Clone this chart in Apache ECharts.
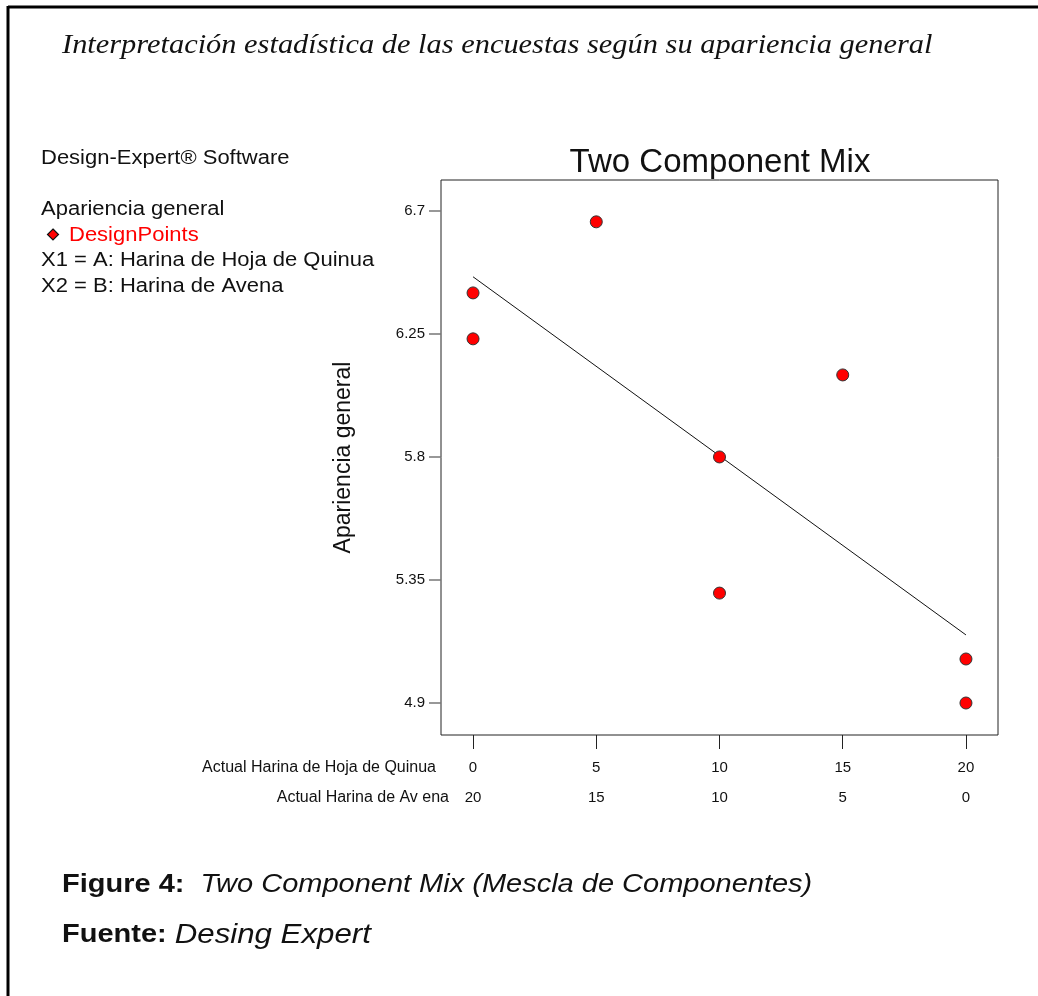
<!DOCTYPE html>
<html>
<head>
<meta charset="utf-8">
<script src="https://cdn.jsdelivr.net/npm/echarts@6/dist/echarts.min.js"></script>
<style>html,body{margin:0;padding:0;background:#fff}#c{width:1038px;height:996px}</style>
</head>
<body>
<div id="c"></div>
<script>
// Data
var quinua = [0, 0, 5, 10, 10, 15, 20, 20];
var apariencia = [6.40, 6.232, 6.66, 5.80, 5.302, 6.10, 5.061, 4.90];
var fitX = [0, 20];
var fitY = [6.459, 5.149];
var xTicks = [0, 5, 10, 15, 20];
var xTopLabels = ['0', '5', '10', '15', '20'];
var xBottomLabels = ['20', '15', '10', '5', '0'];
var yTicks = [4.9, 5.35, 5.8, 6.25, 6.7];
var yTickLabels = ['4.9', '5.35', '5.8', '6.25', '6.7'];

var SANS = 'Liberation Sans, Arial, sans-serif';
var chart = echarts.init(document.getElementById('c'));
var points = quinua.map(function (x, i) { return [x, apariencia[i]]; });
var fit = fitX.map(function (x, i) { return [x, fitY[i]]; });

function legendText(y, text, color) {
  return { type: 'text', x: 41, y: y, scaleX: 1.1, style: { text: text, font: '20px ' + SANS, fill: color || '#111', verticalAlign: 'middle' } };
}

chart.setOption({
  animation: false,
  backgroundColor: '#fff',
  grid: { left: 441, top: 180, right: 40, bottom: 261, show: true, borderColor: '#222', borderWidth: 1, backgroundColor: 'transparent' },
  xAxis: {
    type: 'value', min: -1.3, max: 21.3,
    splitLine: { show: false },
    axisLine: { show: false, onZero: false },
    axisTick: { show: true, length: 14, lineStyle: { color: '#222', width: 1 }, customValues: xTicks },
    axisLabel: {
      customValues: xTicks, margin: 18, fontFamily: SANS, fontSize: 15, color: '#111', lineHeight: 30,
      formatter: function (v) { var i = xTicks.indexOf(v); return xTopLabels[i] + '\n' + xBottomLabels[i]; }
    }
  },
  yAxis: {
    type: 'value', min: 4.783, max: 6.813,
    name: 'Apariencia general', nameLocation: 'middle', nameGap: 86,
    nameTextStyle: { fontFamily: SANS, fontSize: 23, color: '#111' },
    splitLine: { show: false },
    axisLine: { show: false, onZero: false },
    axisTick: { show: true, length: 12, lineStyle: { color: '#777', width: 1.5 }, customValues: yTicks },
    axisLabel: {
      customValues: yTicks, margin: 16, fontFamily: SANS, fontSize: 15, color: '#111',
      formatter: function (v) { return yTickLabels[yTicks.indexOf(v)]; }
    }
  },
  series: [
    { type: 'line', data: fit, symbol: 'none', lineStyle: { color: '#111', width: 1 }, z: 2 },
    { type: 'scatter', data: points, symbol: 'circle', symbolSize: 12,
      itemStyle: { color: '#ff0000', borderColor: '#333', borderWidth: 1, opacity: 1 }, z: 3 }
  ],
  graphic: [
    { type: 'line', shape: { x1: 8, y1: 7, x2: 1038, y2: 7 }, style: { stroke: '#000', lineWidth: 3 } },
    { type: 'line', shape: { x1: 8, y1: 6, x2: 8, y2: 996 }, style: { stroke: '#000', lineWidth: 3 } },
    { type: 'text', x: 62, y: 46, scaleX: 1.086, style: { text: 'Interpretación estadística de las encuestas según su apariencia general', font: 'italic 28px "Liberation Serif", "Times New Roman", serif', fill: '#111', verticalAlign: 'middle' } },
    { type: 'text', x: 720, y: 163, style: { text: 'Two Component Mix', font: '33px ' + SANS, fill: '#111', align: 'center', verticalAlign: 'middle' } },
    legendText(158, 'Design-Expert® Software'),
    legendText(209, 'Apariencia general'),
    { type: 'polygon', shape: { points: [[53, 229], [58.5, 234.5], [53, 240], [47.5, 234.5]] }, style: { fill: '#ff0000', stroke: '#111', lineWidth: 1.2 } },
    { type: 'text', x: 69, y: 235, scaleX: 1.1, style: { text: 'DesignPoints', font: '20px ' + SANS, fill: '#ff0000', verticalAlign: 'middle' } },
    legendText(260, 'X1 = A: Harina de Hoja de Quinua'),
    legendText(286, 'X2 = B: Harina de Avena'),
    { type: 'text', x: 436, y: 768, style: { text: 'Actual Harina de Hoja de Quinua', font: '16px ' + SANS, fill: '#111', align: 'right', verticalAlign: 'middle' } },
    { type: 'text', x: 449, y: 798, style: { text: 'Actual Harina de Av ena', font: '16px ' + SANS, fill: '#111', align: 'right', verticalAlign: 'middle' } },
    { type: 'text', x: 62, y: 885, scaleX: 1.115, style: { text: '{b|Figure 4:}  {i|Two Component Mix (Mescla de Componentes)}', verticalAlign: 'middle', font: '26px ' + SANS,
        rich: { b: { font: 'bold 26px ' + SANS, fill: '#111' }, i: { font: 'italic 26px ' + SANS, fill: '#111' } } } },
    { type: 'text', x: 62, y: 935, scaleX: 1.115, style: { text: '{b|Fuente:} {i|Desing Expert}', verticalAlign: 'middle', font: '26px ' + SANS,
        rich: { b: { font: 'bold 26px ' + SANS, fill: '#111' }, i: { font: 'italic 28px ' + SANS, fill: '#111' } } } }
  ]
});
</script>
</body>
</html>
